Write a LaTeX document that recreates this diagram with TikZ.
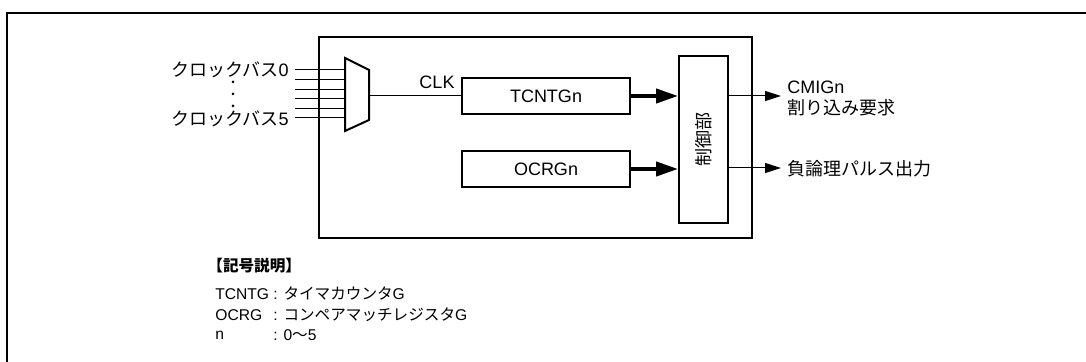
\documentclass[tikz,border=0pt]{standalone}
\usepackage{fontspec}
\setmainfont{Liberation Sans}
\newfontfamily\cjk{Noto Sans CJK JP}
\usetikzlibrary{arrows.meta}

\begin{document}
\begin{tikzpicture}[x=0.5pt, y=-0.5pt, font=\fontsize{9}{11}\selectfont,
    reg/.style={draw, line width=0.9pt, minimum width=84pt, minimum height=18pt, inner sep=0pt},
    txt/.style={inner sep=0pt, anchor=west},
    keytxt/.style={txt, font=\fontsize{7.8}{9}\selectfont},
    busarrow/.style={line width=2pt, -{Triangle[length=11pt,width=7pt]}},
    outarrow/.style={line width=0.5pt, -{Triangle[length=8pt,width=5pt]}}]
  \useasboundingbox (0,0) rectangle (1086,362);
  \draw[line width=1.25pt] (7,362) -- (7,13) -- (1086,13);
  % timer block
  \draw[line width=1pt] (319,37) rectangle (752,238);
  % selector
  \draw[line width=1pt] (345,58) -- (369,70) -- (369,120) -- (345,131) -- cycle;
  \coordinate (muxout) at (369,96);
  \foreach \i in {0,...,5}
    \draw[line width=0.5pt] (295,{70+9.6*\i}) -- (345,{70+9.6*\i});
  \node[inner sep=0pt, anchor=east] (bus0) at (289,70) {{\cjk クロックバス}0};
  \node[inner sep=0pt, anchor=east] (bus5) at (289,119) {{\cjk クロックバス}5};
  \foreach \y in {82,94,106}
    \fill (233,\y) circle (0.75pt);
  \node[inner sep=0pt, anchor=base] (clk) at (437,89) {CLK};
  \node[reg] (tcnt) at (546,96) {TCNTGn};
  \node[reg] (ocr) at (546,169) {OCRGn};
  \node[draw, line width=0.9pt, rotate=90, minimum width=83.5pt, minimum height=24.5pt,
    inner sep=0pt] (ctrl) at (703.5,139.5) {\cjk 制御部};
  \draw[line width=0.5pt] (muxout) -- (tcnt.west);
  \draw[busarrow] (tcnt.east) -- (tcnt.east -| ctrl.north);
  \draw[busarrow] (ocr.east) -- (ocr.east -| ctrl.north);
  % outputs
  \coordinate (cmi) at (781,96);
  \coordinate (pls) at (781,168);
  \draw[outarrow] (cmi -| ctrl.south) -- (cmi);
  \draw[outarrow] (pls -| ctrl.south) -- (pls);
  \node[txt] (cmitxt) at (787,87) {CMIGn};
  \node[txt] (intreq) at (787,108) {\cjk 割り込み要求};
  \node[txt] (plstxt) at (787,169) {\cjk 負論理パルス出力};
  % legend
  \node[keytxt] (key) at (207,266) {\cjk\bfseries 【記号説明】};
  \node[keytxt] (k1) at (215,294) {TCNTG};
  \node[keytxt] (v1) at (273,294) {: {\cjk タイマカウンタ}G};
  \node[keytxt] (k2) at (215,315) {OCRG};
  \node[keytxt] (v2) at (273,315) {: {\cjk コンペアマッチレジスタ}G};
  \node[keytxt] (k3) at (215,335) {n};
  \node[keytxt] (v3) at (273,335) {: 0{\cjk 〜}5};
\end{tikzpicture}
\end{document}
